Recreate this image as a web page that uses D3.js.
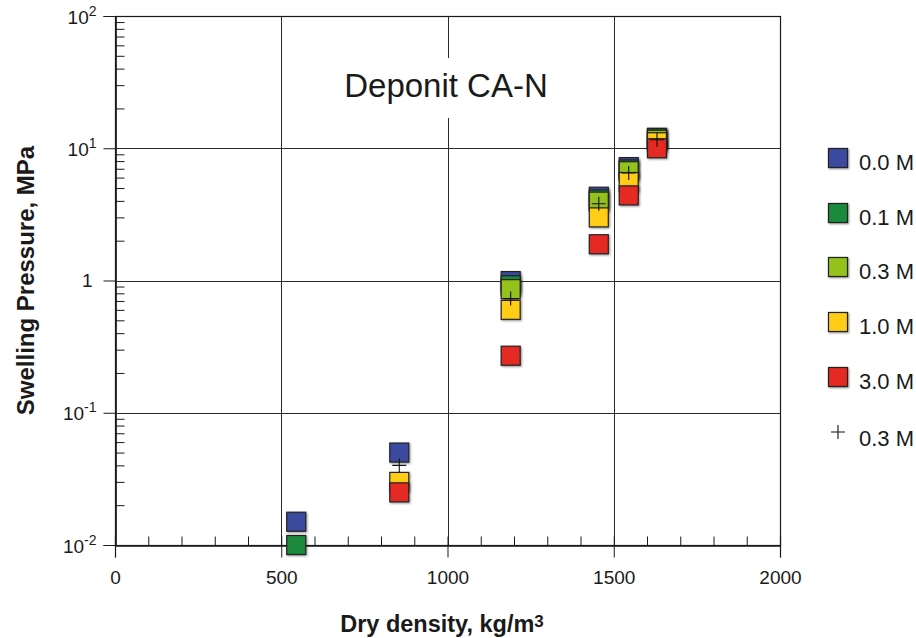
<!DOCTYPE html>
<html><head><meta charset="utf-8">
<script src="https://cdn.jsdelivr.net/npm/d3@7"></script>
<style>
body{margin:0;background:#fff;}
svg{display:block;font-family:"Liberation Sans",Arial,sans-serif;}
</style></head>
<body><svg id="c" width="916" height="638"></svg>
<script>
// ---- data ----
const densities = [545, 855, 1190, 1455, 1545, 1630];
const s00 = [0.015, 0.05, 0.99, 4.3, 7.2, 12.0];
const s01 = [0.01, null, 0.92, 4.1, 6.9, 11.9];
const s03 = [null, null, 0.86, 3.95, 6.7, 11.6];
const s10 = [null, 0.03, 0.6, 3.0, 5.55, 11.1];
const s30 = [null, 0.025, 0.27, 1.88, 4.4, 10.0];
const plus03 = [null, 0.04, 0.73, 3.8, 6.5, 11.6];
const seriesNames = ["0.0 M", "0.1 M", "0.3 M", "1.0 M", "3.0 M"];
const plusName = "0.3 M";
const seriesColors = ["#3b4a9e", "#1b8a3c", "#95c11f", "#ffcc14", "#e42a20"];
const xTicks = [0, 500, 1000, 1500, 2000];
const yTicks = [0.01, 0.1, 1, 10, 100];
const yTickExp = ["-2", "-1", "", "1", "2"];
const title = "Deponit CA-N";
const xTitle = "Dry density, kg/m";
const yTitle = "Swelling Pressure, MPa";

// ---- layout ----
const svg = d3.select("#c");
const L = 115, R = 780, T = 16, B = 545;
const x = d3.scaleLinear().domain([0, 2000]).range([L, R]);
const y = d3.scaleLog().domain([0.01, 100]).range([B, T]);
const xMinor = d3.range(0, 2001, 100);
const yMinor = [];
[0.01, 0.1, 1, 10].forEach(d => { for (let k = 2; k <= 9; k++) yMinor.push(d * k); });

const defs = svg.append("defs");
const f = defs.append("filter").attr("id", "sh").attr("x", "-30%").attr("y", "-30%").attr("width", "160%").attr("height", "160%");
f.append("feGaussianBlur").attr("in", "SourceAlpha").attr("stdDeviation", 1.2).attr("result", "b");
f.append("feOffset").attr("in", "b").attr("dx", 0.5).attr("dy", 0.5).attr("result", "o");
f.append("feComponentTransfer").attr("in", "o").attr("result", "o2")
  .append("feFuncA").attr("type", "linear").attr("slope", 0.45);
const fm = f.append("feMerge");
fm.append("feMergeNode").attr("in", "o2");
fm.append("feMergeNode").attr("in", "SourceGraphic");

// grid
const grid = svg.append("g").attr("stroke", "#2a2a2a").attr("stroke-width", 1);
grid.selectAll("line.v").data(xTicks.filter(d => d > 0 && d < 2000)).join("line")
  .attr("x1", d => Math.round(x(d)) + 0.5).attr("x2", d => Math.round(x(d)) + 0.5)
  .attr("y1", T).attr("y2", B);
grid.selectAll("line.h").data(yTicks.filter(d => d > 0.01 && d < 100)).join("line")
  .attr("y1", d => Math.round(y(d)) + 0.5).attr("y2", d => Math.round(y(d)) + 0.5)
  .attr("x1", L).attr("x2", R);

// title with white box
const tt = svg.append("text").attr("x", 446).attr("y", 97).attr("text-anchor", "middle")
  .attr("font-size", 33).attr("fill", "#1a1a1a").text(title);
const bb = tt.node().getBBox();
svg.insert("rect", "text").attr("x", bb.x - 6).attr("y", 58).attr("width", bb.width + 12).attr("height", 60).attr("fill", "#fff");

// frame
svg.append("rect").attr("x", L + 0.5).attr("y", T + 0.5).attr("width", R - L).attr("height", B - T)
  .attr("fill", "none").attr("stroke", "#1a1a1a").attr("stroke-width", 1.2);

// axes
const fontTick = 19;
const xAx = svg.append("g").attr("transform", `translate(0,${B + 0.5})`)
  .call(d3.axisBottom(x).tickValues(xTicks).tickSize(12).tickPadding(13).tickFormat(d3.format("d")));
svg.append("g").attr("transform", `translate(0,${B + 0.5})`)
  .call(d3.axisBottom(x).tickValues(xMinor).tickSize(-9).tickFormat(() => ""));
const yAx = svg.append("g").attr("transform", `translate(${L + 0.5},0)`)
  .call(d3.axisLeft(y).tickValues(yTicks).tickSize(12).tickFormat(() => ""));
svg.append("g").attr("transform", `translate(${L + 0.5},0)`)
  .call(d3.axisLeft(y).tickValues(yMinor).tickSize(-9).tickFormat(() => ""));
svg.selectAll(".domain").attr("stroke", "#1a1a1a").attr("stroke-width", 1.2);
svg.selectAll(".tick line").attr("stroke", "#1a1a1a");
xAx.selectAll("text").attr("font-size", fontTick).attr("font-family", "Liberation Sans, Arial, sans-serif").attr("fill", "#1a1a1a");

yAx.selectAll(".tick").each(function(d, i) {
  const g = d3.select(this);
  const t = g.append("text").attr("x", -19).attr("y", 7).attr("text-anchor", "end")
    .attr("fill", "#1a1a1a").attr("font-size", fontTick).attr("font-family", "Liberation Sans, Arial, sans-serif");
  const e = yTickExp[i];
  if (e === "") { t.attr("x", -23).attr("y", 6).text("1"); }
  else {
    t.append("tspan").text("10");
    t.append("tspan").attr("font-size", 14).attr("dy", -8).text(e);
  }
});

// axis titles
const xt = svg.append("text").attr("x", 442).attr("y", 632).attr("text-anchor", "middle")
  .attr("font-size", 23.5).attr("font-weight", "bold").attr("fill", "#1a1a1a");
xt.append("tspan").text(xTitle);
xt.append("tspan").attr("font-size", 17).attr("dy", -5).text("3");
svg.append("text").attr("transform", `translate(34,${(T + B) / 2}) rotate(-90)`).attr("text-anchor", "middle")
  .attr("font-size", 24).attr("font-weight", "bold").attr("fill", "#1a1a1a").text(yTitle);

// points
const S = 19;
const all = [s00, s01, s03, s10, s30];
all.forEach((vals, si) => {
  const pts = densities.map((d, i) => ({ d, v: vals[i] })).filter(p => p.v != null);
  svg.append("g").attr("filter", "url(#sh)").selectAll("rect").data(pts).join("rect")
    .attr("x", p => x(p.d) - S / 2).attr("y", p => y(p.v) - S / 2)
    .attr("width", S).attr("height", S)
    .attr("fill", seriesColors[si]).attr("stroke", "#222").attr("stroke-width", 1.2);
});
const pp = densities.map((d, i) => ({ d, v: plus03[i] })).filter(p => p.v != null);
svg.append("g").selectAll("path").data(pp).join("path")
  .attr("d", p => `M${x(p.d) - 7},${y(p.v)}H${x(p.d) + 7}M${x(p.d)},${y(p.v) - 7}V${y(p.v) + 7}`)
  .attr("stroke", "#111").attr("stroke-width", 1.1).attr("fill", "none");

// legend
const legY = [158, 213, 267, 322, 377];
const leg = svg.append("g");
seriesNames.forEach((n, i) => {
  leg.append("rect").attr("x", 838 - S / 2).attr("y", legY[i] - S / 2).attr("width", S).attr("height", S)
    .attr("fill", seriesColors[i]).attr("stroke", "#222").attr("stroke-width", 1.2).attr("filter", "url(#sh)");
  leg.append("text").attr("x", 859).attr("y", legY[i] + 12).attr("font-size", 22).attr("fill", "#1a1a1a").text(n);
});
leg.append("path").attr("d", `M831,432H845M838,425V439`).attr("stroke", "#111").attr("stroke-width", 1.1);
leg.append("text").attr("x", 859).attr("y", 446).attr("font-size", 22).attr("fill", "#1a1a1a").text(plusName);
</script></body></html>
